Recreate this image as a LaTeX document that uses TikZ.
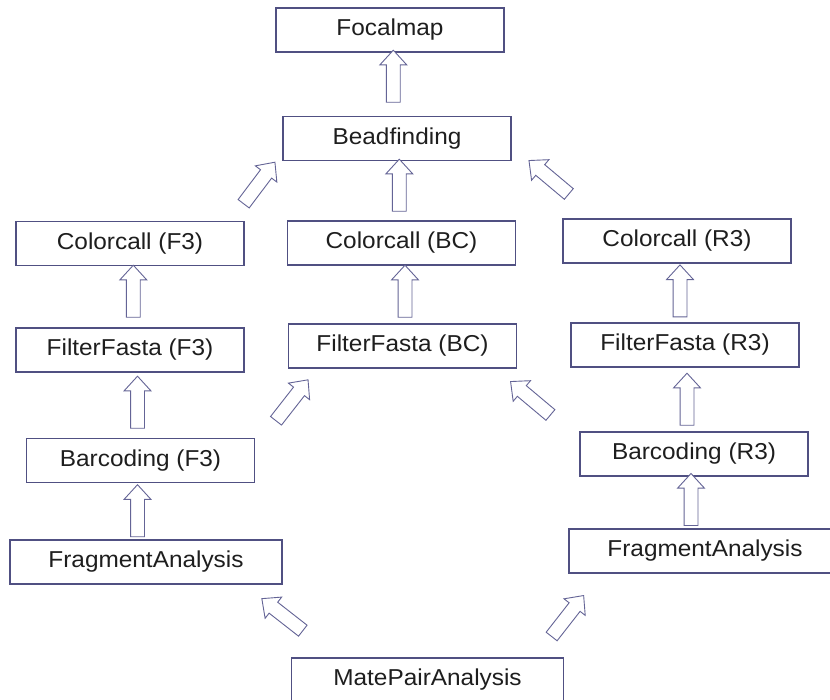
\documentclass[tikz,border=0pt]{standalone}
\usepackage{fontspec}
\setmainfont{Liberation Sans}[FakeStretch=1.06]
\usetikzlibrary{shapes.arrows}
\definecolor{boxline}{RGB}{80,80,130}
\definecolor{arrowline}{RGB}{100,100,150}
\definecolor{labeltext}{RGB}{30,30,30}
\begin{document}
\begin{tikzpicture}[x=1pt, y=-1pt,
    stage/.style={draw=boxline, line width=1.1pt, minimum width=228pt, minimum height=44pt, inner sep=0pt, text=labeltext, font=\fontsize{23}{27}\selectfont},
    widestage/.style={stage, minimum width=272pt},
    blockarrow/.style={single arrow, draw=arrowline, line width=0.9pt, fill=white, inner sep=6.5pt, minimum height=52pt, minimum width=26pt, single arrow head extend=6.5pt, single arrow tip angle=85}]
    \fill[white] (0,0) rectangle (830,700);
    \useasboundingbox (0,0) rectangle (830,700);
    \clip (0,0) rectangle (830,700);

    % stages
    \node[stage] (focal) at (390,30) {Focalmap};
    \node[stage] (bead) at (397,138.5) {Beadfinding};
    \node[stage] (ccF3) at (130,243.5) {Colorcall (F3)};
    \node[stage] (ccBC) at (401.5,243) {Colorcall (BC)};
    \node[stage] (ccR3) at (677,241) {Colorcall (R3)};
    \node[stage] (ffF3) at (130,350) {FilterFasta (F3)};
    \node[stage] (ffBC) at (402.5,346) {FilterFasta (BC)};
    \node[stage] (ffR3) at (685,345) {FilterFasta (R3)};
    \node[stage] (bcF3) at (140.5,460.5) {Barcoding (F3)};
    \node[stage] (bcR3) at (694,454) {Barcoding (R3)};
    \node[widestage] (faL) at (146,562) {FragmentAnalysis};
    \node[widestage] (faR) at (705,551) {FragmentAnalysis};
    \node[widestage] (mate) at (427.5,680) {MatePairAnalysis};

    % block arrows
    \foreach \name/\x/\y/\ang in {bead-focal/393.3/80/90, ccBC-bead/399.3/189/90,
        ffBC-ccBC/405/295/90, ffF3-ccF3/133.3/295/90, bcF3-ffF3/137.5/406/90,
        faL-bcF3/137.5/514.5/90, ffR3-ccR3/680/294.7/90, bcR3-ffR3/687/403/90,
        faR-bcR3/691/503.3/90, ccF3-bead/257/186/53, ccR3-bead/551.8/179.7/140,
        bcF3-ffBC/289.7/403.3/52, bcR3-ffBC/533.4/400.7/140,
        mate-faL/285.3/617/142, mate-faR/565.3/619/52}
        \node[blockarrow, rotate=\ang] (\name) at (\x,\y) {};
\end{tikzpicture}
\end{document}
